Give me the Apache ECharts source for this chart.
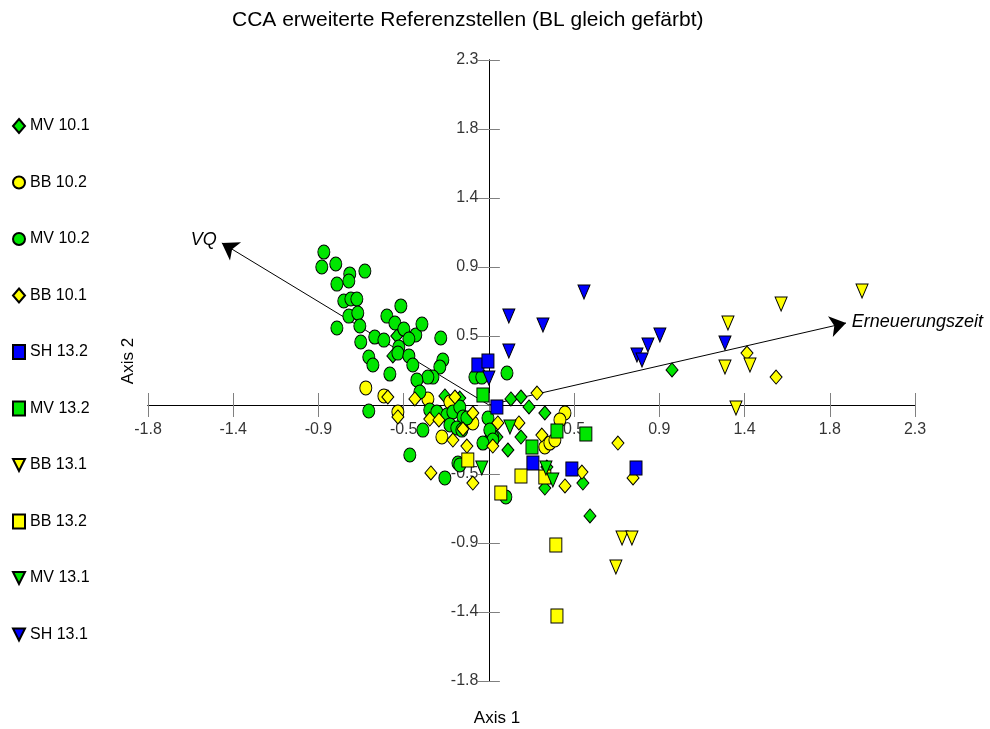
<!DOCTYPE html>
<html>
<head>
<meta charset="utf-8">
<script src="https://cdn.jsdelivr.net/npm/echarts@6/dist/echarts.min.js"></script>
<style>
  html, body { margin: 0; padding: 0; background: #fff; }
  #chart { width: 990px; height: 729px; }
</style>
</head>
<body>
<div id="chart"></div>
<script>
// axis range: both axes share the same ticks (k * 0.457)
var AXIS_MIN = -1.828
var AXIS_MAX = 2.285
var AXIS_STEP = 0.457
var tickValues = [-1.828, -1.371, -0.914, -0.457, 0.457, 0.914, 1.371, 1.828, 2.285]

// scores per group [axis1, axis2]
var mv101 = [[-0.236, 0.06], [-0.156, 0.046], [-0.011, -0.238], [0.043, -0.212], [0.118, 0.04], [0.172, 0.053],
    [0.215, -0.013], [0.3, -0.053], [0.172, -0.212], [0.102, -0.298], [0.311, -0.411], [0.3, -0.55],
    [0.504, -0.517], [0.542, -0.735], [0.982, 0.232], [-0.494, 0.457], [-0.515, 0.325]]
var bb102 = [[-0.66, 0.113], [-0.563, 0.06], [-0.327, 0.04], [-0.488, -0.046], [-0.252, -0.212], [-0.209, 0.02],
    [-0.086, -0.119], [0.408, -0.053], [0.381, -0.099], [0.3, -0.278], [0.327, -0.252], [0.354, -0.232]]
var mv102 = [[-0.885, 1.013], [-0.896, 0.914], [-0.821, 0.934], [-0.746, 0.868], [-0.751, 0.821], [-0.815, 0.801],
    [-0.665, 0.887], [-0.778, 0.689], [-0.74, 0.702], [-0.708, 0.702], [-0.751, 0.589], [-0.703, 0.609],
    [-0.815, 0.51], [-0.692, 0.523], [-0.687, 0.417], [-0.547, 0.589], [-0.472, 0.656], [-0.504, 0.543],
    [-0.456, 0.503], [-0.392, 0.464], [-0.359, 0.536], [-0.429, 0.437], [-0.612, 0.45], [-0.563, 0.43],
    [-0.483, 0.384], [-0.488, 0.344], [-0.644, 0.318], [-0.622, 0.265], [-0.429, 0.325], [-0.408, 0.265],
    [-0.258, 0.444], [-0.247, 0.298], [-0.263, 0.252], [-0.3, 0.185], [-0.327, 0.185], [-0.531, 0.205],
    [-0.386, 0.166], [-0.37, 0.086], [-0.644, -0.04], [-0.354, -0.166], [-0.424, -0.331], [-0.236, -0.483],
    [-0.166, -0.384], [-0.317, -0.033], [-0.279, -0.046], [-0.225, -0.066], [-0.193, -0.046], [-0.156, -0.013],
    [-0.139, -0.079], [-0.118, -0.086], [-0.209, -0.132], [-0.172, -0.152], [-0.145, -0.166], [0.021, -0.212],
    [-0.005, -0.086], [0.005, -0.166], [0.021, -0.232], [-0.032, -0.252], [-0.156, -0.397], [0.091, -0.609],
    [-0.075, 0.185], [-0.038, 0.185], [0.097, 0.212]]
var bb101 = [[-0.542, 0.053], [-0.397, 0.04], [-0.488, -0.079], [-0.317, -0.093], [-0.268, -0.099], [-0.182, 0.053],
    [-0.086, -0.053], [-0.139, -0.159], [-0.193, -0.232], [-0.118, -0.272], [0.021, -0.272], [-0.311, -0.45],
    [-0.086, -0.517], [0.258, 0.079], [0.048, -0.119], [0.161, -0.119], [0.284, -0.199], [0.692, -0.252],
    [0.408, -0.536], [0.499, -0.444], [0.773, -0.483], [1.384, 0.344], [1.54, 0.185]]
var sh132 = [[-0.059, 0.265], [-0.005, 0.291], [0.043, -0.013], [0.236, -0.384], [0.445, -0.424], [0.789, -0.417]]
var mv132 = [[-0.032, 0.066], [0.365, -0.172], [0.52, -0.192], [0.231, -0.278]]
var bb131 = [[2.001, 0.755], [1.567, 0.669], [1.282, 0.543], [1.266, 0.252], [1.4, 0.265], [1.325, -0.02],
    [0.714, -0.881], [0.767, -0.881], [0.681, -1.073]]
var bb132 = [[-0.113, -0.364], [0.172, -0.47], [0.3, -0.477], [0.064, -0.583], [0.359, -0.927], [0.365, -1.397]]
var mv131 = [[0.113, -0.146], [-0.038, -0.417], [0.343, -0.497], [0.306, -0.417]]
var sh131 = [[0.107, 0.589], [0.29, 0.53], [0.51, 0.748], [0.107, 0.358], [0.0, 0.179], [0.917, 0.464],
    [0.853, 0.397], [0.794, 0.331], [0.821, 0.298], [1.266, 0.411]]

// environmental vectors (biplot arrows)
var vectorNames = ['VQ', 'Erneuerungszeit']
var vectorEnds = [[-1.432, 1.073], [1.915, 0.543]]

var GREEN = '#00e600'
var YELLOW = '#ffff00'
var BLUE = '#0000ff'
var ELLIPSE = 'path://M0,-1A1,1,0,1,1,0,1A1,1,0,1,1,0,-1Z'
var TRI_DOWN = 'path://M0,0L2,0L1,2Z'

var groups = [
    {name: 'MV 10.1', data: mv101, color: GREEN, symbol: 'diamond'},
    {name: 'BB 10.2', data: bb102, color: YELLOW, symbol: ELLIPSE},
    {name: 'MV 10.2', data: mv102, color: GREEN, symbol: ELLIPSE},
    {name: 'BB 10.1', data: bb101, color: YELLOW, symbol: 'diamond'},
    {name: 'SH 13.2', data: sh132, color: BLUE, symbol: 'rect'},
    {name: 'MV 13.2', data: mv132, color: GREEN, symbol: 'rect'},
    {name: 'BB 13.1', data: bb131, color: YELLOW, symbol: TRI_DOWN},
    {name: 'BB 13.2', data: bb132, color: YELLOW, symbol: 'rect'},
    {name: 'MV 13.1', data: mv131, color: GREEN, symbol: TRI_DOWN},
    {name: 'SH 13.1', data: sh131, color: BLUE, symbol: TRI_DOWN}
]

var FONT = 'Arial, "Liberation Sans", sans-serif'

function tickLabel (v) {
    return v.toFixed(1)
}

// two axes per direction so the ticks cross the line on both sides
function makeAxis (dim, idx) {
    var isX = dim === 'x'
    return {
        type: 'value',
        position: isX ? (idx === 0 ? 'bottom' : 'top') : (idx === 0 ? 'left' : 'right'),
        min: AXIS_MIN,
        max: AXIS_MAX,
        interval: AXIS_STEP,
        axisLine: {show: true, onZero: true, onZeroAxisIndex: idx, lineStyle: {color: '#000', width: 1}},
        axisTick: {show: true, length: isX ? 12 : 11, lineStyle: {color: '#808080', width: 1}},
        axisLabel: {show: false},
        splitLine: {show: false}
    }
}

var series = groups.map(function (g) {
    return {
        name: g.name,
        type: 'scatter',
        data: g.data,
        symbol: g.symbol,
        symbolSize: [12, 14],
        itemStyle: {color: g.color, borderColor: '#000', borderWidth: 1, opacity: 1},
        emphasis: {disabled: true}
    }
})

// tick labels sitting on the crossing axes
var labelStyle = {show: true, formatter: function (p) { return tickLabel(p.value[p.value[2]]) },
    color: '#000', fontSize: 16, fontFamily: FONT}
series.unshift({
    name: 'xticks',
    type: 'scatter',
    z: 0,
    silent: true,
    symbol: 'circle',
    symbolSize: 1,
    itemStyle: {color: 'rgba(0,0,0,0)'},
    label: Object.assign({position: 'bottom', distance: 16}, labelStyle),
    data: tickValues.map(function (v) { return [v, 0, 0] })
}, {
    name: 'yticks',
    type: 'scatter',
    z: 0,
    silent: true,
    symbol: 'circle',
    symbolSize: 1,
    itemStyle: {color: 'rgba(0,0,0,0)'},
    label: Object.assign({position: 'left', distance: 10}, labelStyle),
    data: tickValues.map(function (v) { return [0, v, 1] })
})

series.push({
    name: 'vectors',
    type: 'lines',
    coordinateSystem: 'cartesian2d',
    z: 1,
    clip: false,
    symbol: ['none', 'arrow'],
    symbolSize: [11, 16],
    lineStyle: {color: '#000', width: 1, opacity: 1},
    label: {
        show: true,
        position: 'end',
        distance: 6,
        formatter: '{b}',
        color: '#000',
        fontSize: 18,
        fontStyle: 'italic',
        fontFamily: FONT
    },
    emphasis: {disabled: true},
    data: vectorNames.map(function (n, i) {
        return {name: n, coords: [[0, 0], vectorEnds[i]]}
    })
})

var chart = echarts.init(document.getElementById('chart'))
chart.setOption({
    animation: false,
    backgroundColor: '#fff',
    textStyle: {fontFamily: FONT},
    title: {
        text: 'CCA erweiterte Referenzstellen (BL gleich gefärbt)',
        left: 232,
        top: 10,
        padding: 0,
        textStyle: {fontSize: 21, fontWeight: 'normal', color: '#000', fontFamily: FONT}
    },
    legend: {
        orient: 'vertical',
        left: 12,
        top: 118,
        padding: 0,
        itemWidth: 12,
        itemHeight: 14,
        itemGap: 40.5,
        selectedMode: false,
        data: groups.map(function (g) { return g.name }),
        textStyle: {fontSize: 16, color: '#000', lineHeight: 14, fontFamily: FONT}
    },
    grid: {left: 148, right: 75, top: 60, bottom: 48, outerBoundsMode: 'none'},
    xAxis: [makeAxis('x', 0), makeAxis('x', 1)],
    yAxis: [makeAxis('y', 0), makeAxis('y', 1)],
    graphic: [
        {type: 'text', x: 497, y: 718, style: {text: 'Axis 1', fontSize: 17, fontFamily: FONT, fill: '#000', align: 'center', verticalAlign: 'middle'}},
        {type: 'text', x: 128, y: 361, rotation: Math.PI / 2, style: {text: 'Axis 2', fontSize: 17, fontFamily: FONT, fill: '#000', align: 'center', verticalAlign: 'middle'}}
    ],
    series: series
})
</script>
</body>
</html>
